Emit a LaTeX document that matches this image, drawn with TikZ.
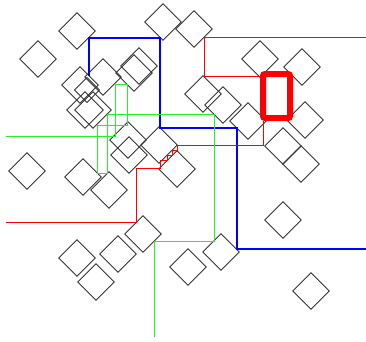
\documentclass[tikz,border=0pt]{standalone}
\usetikzlibrary{shapes.geometric,calc}
\definecolor{wiregreen}{RGB}{40,240,40}
\begin{document}
\begin{tikzpicture}[x=1pt,y=-1pt,
  dia/.style={draw=black!80,shape=diamond,shape aspect=1,minimum width=36.5pt,minimum height=36.5pt,inner sep=0pt,outer sep=0pt,line width=0.8pt},
  smalldia/.style={dia,minimum width=25pt,minimum height=25pt},
  bluewire/.style={draw=blue,line width=1.6pt},
  redwire/.style={draw=red,line width=0.9pt},
  greenwire/.style={draw=wiregreen,line width=0.9pt},
  redbox/.style={draw=red,line width=6pt,rounded corners=2pt,minimum width=27pt,minimum height=44pt,inner sep=0pt}]
\useasboundingbox (0,0) rectangle (366,341);
% diamonds
\foreach \n/\x/\y in {d1/77/31,d2/38/59,d3/163/22,d4/194/29,d5/80/85,d6/103/77,d7/85/110,d8/93/110,
  d10/139/66,d11/134/73,d12/260/59,d13/302/67,d14/203/94,d15/223/105,d16/248/121,d17/305/120,
  d18/283/146,d19/301/164,d20/283/220,d21/221/252,d22/188/267,d23/311/291,d24/27/171,d25/83/177,
  d26/109/190,d27/143/234,d28/118/254,d29/77/258,d30/96/282,d31/128/140,d32/129/155,d33/159/145,d34/177/169}
  {\node[dia] (\n) at (\x,\y) {};}
\node[smalldia] (d9) at (87,90) {};
% thick red box
\node[redbox] (r) at (276.5,96) {};
% free ends
\coordinate (redTop) at (366,37);
\coordinate (redLeft) at (6,222);
\coordinate (greenLeft) at (6,136);
\coordinate (greenBottom) at (154,337);
\coordinate (blueRight) at (366,249);
% blue
\draw[bluewire] (d5.north east) |- (160,38) |- (237,128) |- (blueRight);
% red
\draw[redwire] (redTop) -| (204,76) -- (r.west |- 0,76);
\draw[redwire] (r.242) |- (177,145) -- (177,150) -- (172,150) -- (172,155) -- (167,155) -- (167,160) -- (160,160) -- (160,168) -| (136,222) -- (redLeft);
% green
\draw[greenwire] (greenLeft) -| (115,84) -| (127,125) -| (97,173) -| (107,114) -| (214,241) -| (greenBottom);
\end{tikzpicture}
\end{document}
